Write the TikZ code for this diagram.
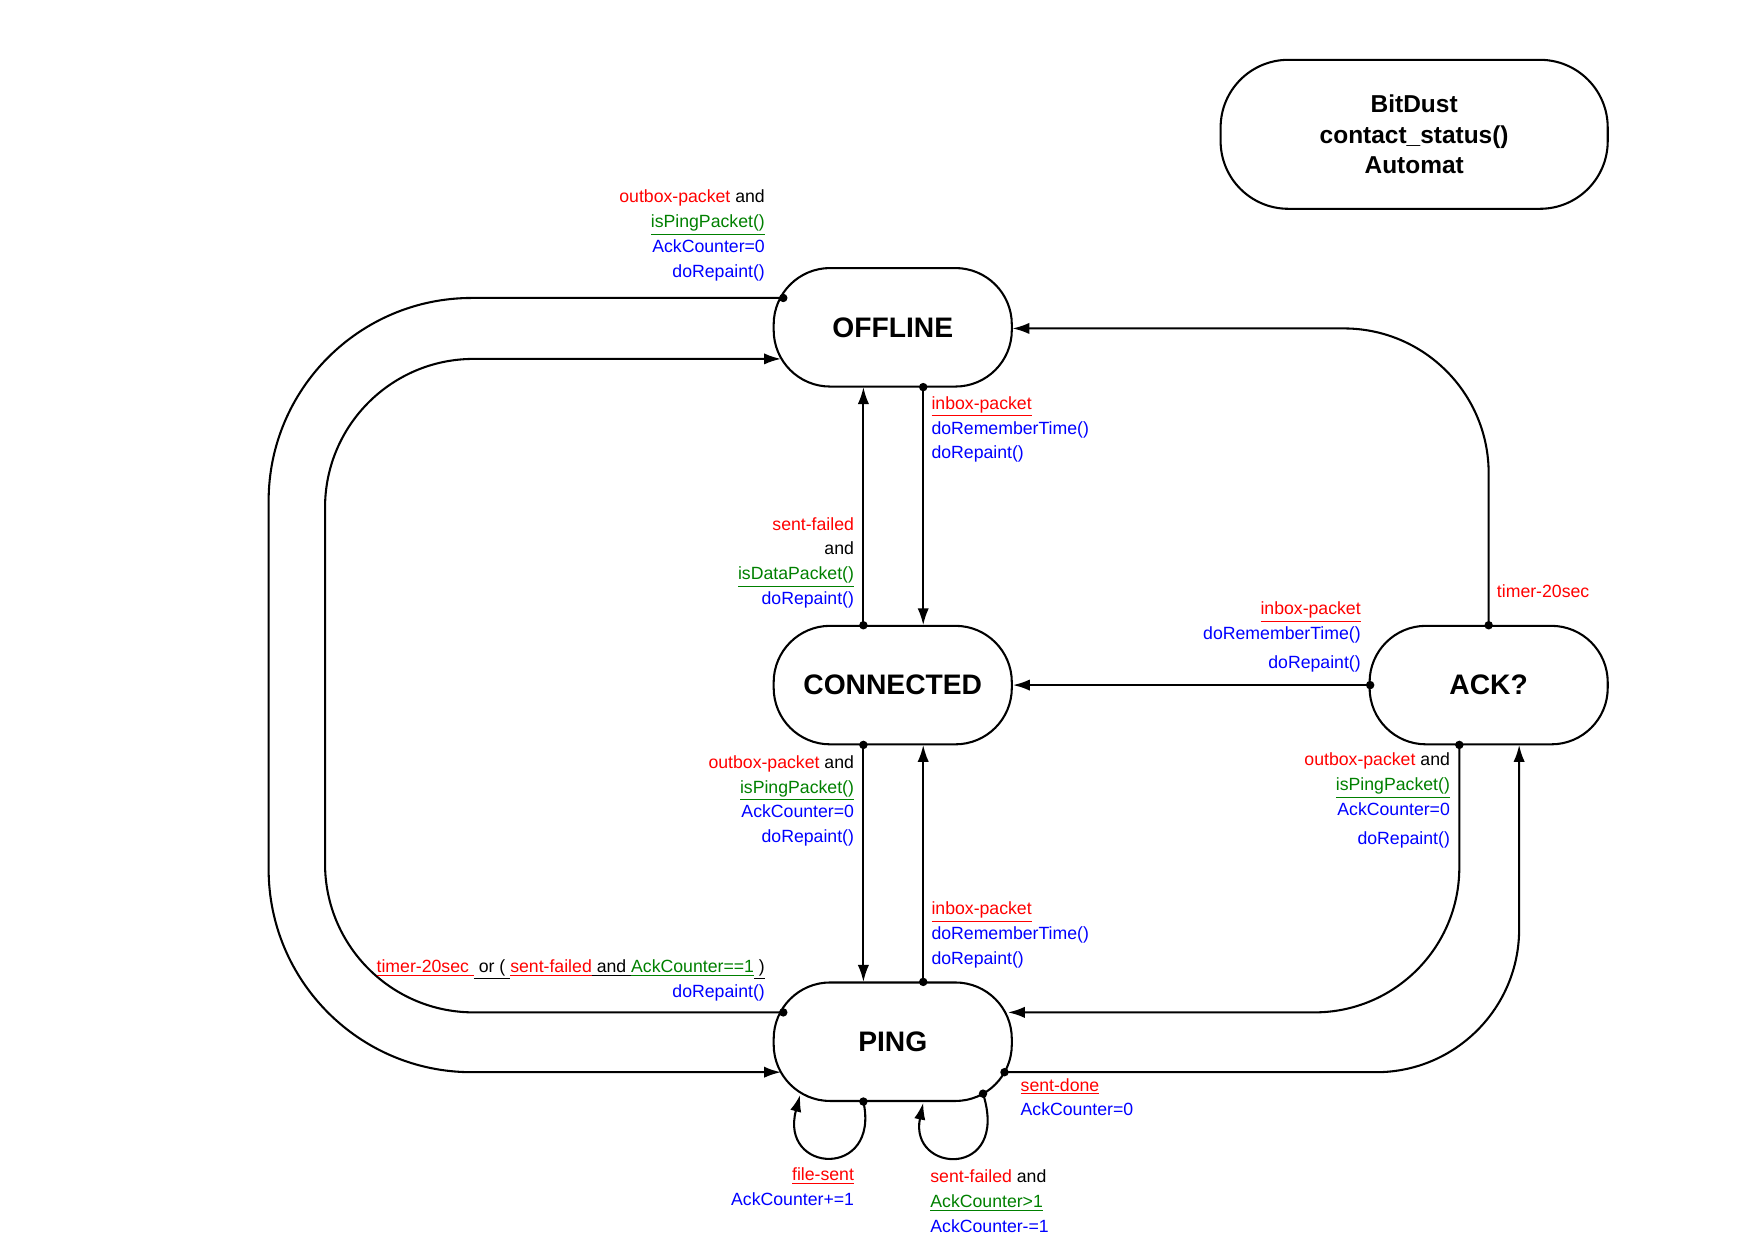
\documentclass[tikz,border=0pt]{standalone}
\usepackage{fontspec}
\setmainfont{Liberation Sans}
\usetikzlibrary{arrows.meta}
\definecolor{ev}{HTML}{FF0000}
\definecolor{cd}{HTML}{008000}
\definecolor{ac}{HTML}{0000FF}
\begin{document}
\begin{tikzpicture}[x=0.6pt,y=-0.6pt,
  st/.style={draw,line width=1.1pt,rounded corners=30pt,minimum width=126.6pt,minimum height=63pt,font=\fontsize{15}{17}\selectfont\bfseries},
  ed/.style={line width=1.1pt,-{Latex[length=9pt,width=6pt]}},
  lr/.style={anchor=north east,align=right,inner sep=0pt,font=\fontsize{9.4}{13.2}\selectfont},
  ll/.style={anchor=north west,align=left,inner sep=0pt,font=\fontsize{9.4}{13.2}\selectfont},
  dot/.style={fill,circle,inner sep=0pt,minimum size=4.5pt}]
\useasboundingbox (0,0) rectangle (1555,1100);
\node[draw,line width=1.1pt,rounded corners=36pt,minimum width=205.8pt,minimum height=79.2pt,align=center,font=\fontsize{13}{16}\selectfont\bfseries] (title) at (1253,119) {BitDust\\contact\_status()\\Automat};
\node[st] (off) at (791,290) {OFFLINE};
\node[st] (con) at (791,607) {CONNECTED};
\node[st] (ack) at (1319,607) {ACK?};
\node[st] (ping) at (791,923) {PING};
% dots
\coordinate (d1) at (694,264);
\coordinate (d2) at (694,897);
\coordinate (d3) at (818,343);
\coordinate (d4) at (765,554);
\coordinate (d5) at (765,660);
\coordinate (d6) at (818,870);
\coordinate (d7) at (1214,607);
\coordinate (d8) at (1319,554);
\coordinate (d9) at (1293,660);
\coordinate (d10) at (890,950);
\coordinate (d11) at (765,976);
\coordinate (d12) at (871,969);
\foreach \d in {d1,d2,d3,d4,d5,d6,d7,d8,d9,d10,d11,d12} \node[dot] at (\d) {};
% edges
\draw[ed,rounded corners=108pt] (d1) -- (238,264) -- (238,950) -- (692,950);
\draw[ed,rounded corners=79pt] (d2) -- (288,897) -- (288,318) -- (692,318);
\draw[ed] (d3) -- (818,554);
\draw[ed] (d4) -- (765,343);
\draw[ed] (d5) -- (765,870);
\draw[ed] (d6) -- (818,660);
\draw[ed] (d7) -- (con.east);
\draw[ed,rounded corners=77pt] (d8) -- (1319,291) -- (897,291);
\draw[ed,rounded corners=77pt] (d9) -- (1293,897) -- (893,897);
\draw[ed,rounded corners=76pt] (d10) -- (1346,950) -- (1346,660);
\draw[ed] (d11) .. controls (780,1045) and (690,1040) .. (709,970);
\draw[ed] (d12) .. controls (895,1045) and (805,1040) .. (818,977);
% labels
\node[lr] at (678,168) {\textcolor{ev}{outbox-packet} and\\\textcolor{cd}{\underline{isPingPacket()}}\\\textcolor{ac}{AckCounter=0}\\\textcolor{ac}{doRepaint()}};
\node[lr] at (678,850) {\textcolor{ev}{\underline{timer-20sec }}\underline{ or ( }\textcolor{ev}{\underline{sent-failed}}\underline{ and }\textcolor{cd}{\underline{AckCounter==1}}\underline{ )}\\\textcolor{ac}{doRepaint()}};
\node[ll] at (825,351) {\textcolor{ev}{\underline{inbox-packet}}\\\textcolor{ac}{doRememberTime()}\\\textcolor{ac}{doRepaint()}};
\node[lr] at (757,458) {\textcolor{ev}{sent-failed}\\and\\\textcolor{cd}{\underline{isDataPacket()}}\\\textcolor{ac}{doRepaint()}};
\node[lr] at (757,669) {\textcolor{ev}{outbox-packet} and\\\textcolor{cd}{\underline{isPingPacket()}}\\\textcolor{ac}{AckCounter=0}\\\textcolor{ac}{doRepaint()}};
\node[ll] at (825,799) {\textcolor{ev}{\underline{inbox-packet}}\\\textcolor{ac}{doRememberTime()}\\\textcolor{ac}{doRepaint()}};
\node[lr] at (1206,533) {\textcolor{ev}{\underline{inbox-packet}}\\\textcolor{ac}{doRememberTime()}\\[2pt]\textcolor{ac}{doRepaint()}};
\node[ll] at (1326,518) {\textcolor{ev}{timer-20sec}};
\node[lr] at (1285,667) {\textcolor{ev}{outbox-packet} and\\\textcolor{cd}{\underline{isPingPacket()}}\\\textcolor{ac}{AckCounter=0}\\[2pt]\textcolor{ac}{doRepaint()}};
\node[ll] at (904,955) {\textcolor{ev}{\underline{sent-done}}\\\textcolor{ac}{AckCounter=0}};
\node[lr] at (757,1034) {\textcolor{ev}{\underline{file-sent}}\\\textcolor{ac}{AckCounter+=1}};
\node[ll] at (824,1036) {\textcolor{ev}{sent-failed} and\\\textcolor{cd}{\underline{AckCounter>1}}\\\textcolor{ac}{AckCounter-=1}};
\end{tikzpicture}
\end{document}
